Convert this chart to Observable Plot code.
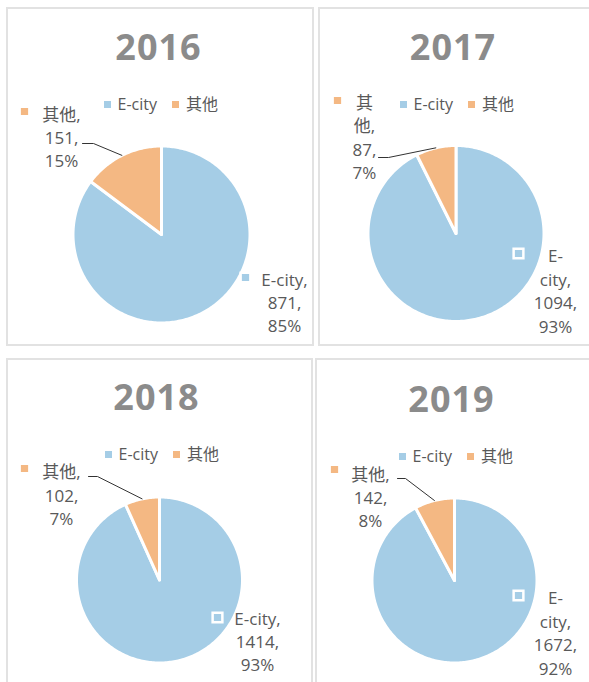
<!DOCTYPE html>
<html><head><meta charset="utf-8">
<script src="https://cdn.jsdelivr.net/npm/d3@7"></script>
<script src="https://cdn.jsdelivr.net/npm/@observablehq/plot@0.6"></script>
<style>
body{margin:0;background:#fff;font-family:"Open Sans","Noto Sans CJK SC",sans-serif;}
#root{position:relative;width:589px;height:682px;overflow:hidden;background:#fff;}
.frame{position:absolute;box-sizing:border-box;border:2px solid #e2e2e2;overflow:hidden;}
.title{position:absolute;font-weight:700;font-size:36px;line-height:36px;color:#8b8b8b;text-align:center;width:200px;letter-spacing:1px;}
.legend{position:absolute;display:flex;align-items:center;height:20px;font-size:16px;line-height:20px;color:#595959;white-space:nowrap;}
.legend .item{display:flex;align-items:center;margin-right:15px;}
.legend .sw{width:7px;height:7px;display:inline-block;margin-right:7px;}
.plotwrap{position:absolute;}
</style></head><body><div id="root"></div>
<script>
// ---- data ----
const years = ["2016", "2017", "2018", "2019"];
const categories = ["E-city", "其他"];
const ecityValues = [871, 1094, 1414, 1672];
const otherValues = [151, 87, 102, 142];

// ---- styles ----
const colors = ["#a5cde6", "#f4b883"];
const textColor = "#595959";
const fontFamily = '"Open Sans","Noto Sans CJK SC",sans-serif';

// ---- layout (page pixels) ----
const layout = [
  {box:[6,7,308,339], cx:161, cy:234, r:88.5, titleTop:29, legendX:103.5, legendY:104,
   other:{x:61, y:136, mx:24, my:111, brk:null, lead:[[82,143],[93,143]]},
   ecity:{x:284, y:301, mx:245, my:277, brk:null}},
  {box:[318,7,300,339], cx:455.5, cy:233, r:88, titleTop:29, legendX:399.5, legendY:104,
   other:{x:364, y:136, mx:337, my:100, brk:1, lead:[[378,157],[388,157]]},
   ecity:{x:555, y:289.5, mx:518, my:253, brk:2}},
  {box:[6,358,307,340], cx:159, cy:579.5, r:83, titleTop:379, legendX:104.5, legendY:454,
   other:{x:61, y:493.5, mx:24, my:468, brk:null, lead:[[88,476],[97,476]]},
   ecity:{x:257, y:640, mx:217, my:617, brk:null}},
  {box:[315,358,300,340], cx:454, cy:580, r:82.5, titleTop:381, legendX:398.5, legendY:456,
   other:{x:370, y:496, mx:334, my:469, brk:null, lead:[[397,478],[405,478]]},
   ecity:{x:555, y:631.5, mx:518, my:595, brk:2}}
];

const root = document.getElementById("root");
const pct = d3.format(".0%");

years.forEach((year, i) => {
  const L = layout[i];
  const [bx, by, bw, bh] = L.box;
  const rows = [
    {name: categories[0], value: ecityValues[i]},
    {name: categories[1], value: otherValues[i]}
  ];
  const total = d3.sum(rows, d => d.value);

  const frame = document.createElement("div");
  frame.className = "frame";
  Object.assign(frame.style, {left: bx + "px", top: by + "px", width: bw + "px", height: bh + "px"});
  root.appendChild(frame);

  const px = X => (X - L.cx) / L.r;
  const py = Y => (L.cy - Y) / L.r;

  const arcs = d3.pie().sort(null).value(d => d.value)(rows);
  const pts = arcs.flatMap(a => {
    const n = Math.max(2, Math.ceil((a.endAngle - a.startAngle) / (Math.PI / 180)));
    const ring = d3.range(n + 1).map(k => a.startAngle + (a.endAngle - a.startAngle) * k / n);
    return [
      {slice: a.data.name, x: 0, y: 0},
      ...ring.map(t => ({slice: a.data.name, x: Math.sin(t), y: Math.cos(t)})),
      {slice: a.data.name, x: 0, y: 0}
    ];
  });

  const otherArc = arcs[1];
  const mid = (otherArc.startAngle + otherArc.endAngle) / 2;
  const lead = [
    {x: px(L.other.lead[0][0]), y: py(L.other.lead[0][1])},
    {x: px(L.other.lead[1][0]), y: py(L.other.lead[1][1])},
    {x: Math.sin(mid), y: Math.cos(mid)}
  ];

  const labelText = (d, brk) => {
    const name = brk ? [d.name.slice(0, brk), d.name.slice(brk) + ","] : [d.name + ","];
    return [...name, d.value + ",", pct(d.value / total)].join("\n");
  };
  const labels = [
    {name: rows[0].name, text: labelText(rows[0], L.ecity.brk), x: px(L.ecity.x), y: py(L.ecity.y), mx: px(L.ecity.mx), my: py(L.ecity.my)},
    {name: rows[1].name, text: labelText(rows[1], L.other.brk), x: px(L.other.x), y: py(L.other.y), mx: px(L.other.mx), my: py(L.other.my)}
  ];

  const W = bw, H = Math.min(bh, 682 - by);
  const chart = Plot.plot({
    width: W, height: H,
    margin: 0,
    style: {background: "transparent", overflow: "visible"},
    x: {domain: [px(bx), px(bx + W)], range: [0, W], axis: null},
    y: {domain: [py(by + H), py(by)], range: [H, 0], axis: null},
    color: {domain: categories, range: colors},
    marks: [
      Plot.line(pts, {x: "x", y: "y", z: "slice", fill: "slice", stroke: "white", strokeWidth: 3, strokeLinejoin: "round", curve: "linear"}),
      Plot.line(lead, {x: "x", y: "y", stroke: "#333333", strokeWidth: 1}),
      Plot.dot(labels, {x: "mx", y: "my", symbol: "square", r: 5.5, fill: "name", stroke: "white", strokeWidth: 2.5}),
      Plot.text(labels, {x: "x", y: "y", text: "text", fill: textColor, fontSize: 17, lineHeight: 1.38, fontFamily, textAnchor: "middle"})
    ]
  });
  const wrap = document.createElement("div");
  wrap.className = "plotwrap";
  Object.assign(wrap.style, {left: bx + "px", top: by + "px", width: W + "px", height: H + "px"});
  wrap.appendChild(chart);
  root.appendChild(wrap);

  const t = document.createElement("div");
  t.className = "title";
  t.textContent = year;
  Object.assign(t.style, {left: (L.cx - 2.5 - 100) + "px", top: L.titleTop + "px"});
  root.appendChild(t);

  const lg = document.createElement("div");
  lg.className = "legend";
  Object.assign(lg.style, {left: L.legendX + "px", top: (L.legendY - 10) + "px"});
  categories.forEach((c, k) => {
    const it = document.createElement("span");
    it.className = "item";
    const sw = document.createElement("span");
    sw.className = "sw";
    sw.style.background = colors[k];
    const tx = document.createElement("span");
    tx.textContent = c;
    it.appendChild(sw); it.appendChild(tx);
    lg.appendChild(it);
  });
  root.appendChild(lg);
});
</script></body></html>
